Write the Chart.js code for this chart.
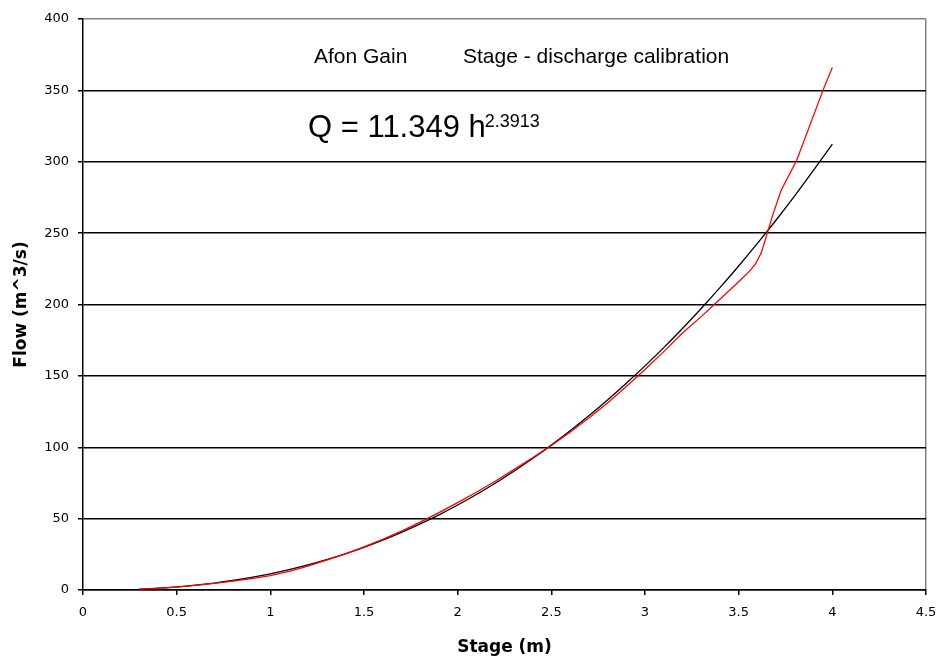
<!DOCTYPE html>
<html>
<head>
<meta charset="utf-8">
<script src="https://cdn.jsdelivr.net/npm/chart.js@4"></script>
<style>
html,body{margin:0;padding:0;background:#fff;}
#wrap{width:938px;height:661px;}
</style>
</head>
<body>
<div id="wrap"><canvas id="c" width="938" height="661"></canvas></div>
<script>
// Fitted rating curve Q = 11.349 h^2.3913 (black)
const fitStage = [0.3,0.4,0.5,0.6,0.7,0.8,0.9,1.0,1.1,1.2,1.3,1.4,1.5,1.6,1.7,1.8,1.9,2.0,2.1,2.2,2.3,2.4,2.5,2.6,2.7,2.8,2.9,3.0,3.1,3.2,3.3,3.4,3.5,3.6,3.7,3.8,3.9,4.0];
const fitFlow  = [0.64,1.27,2.16,3.35,4.84,6.66,8.82,11.35,14.25,17.55,21.25,25.37,29.93,34.92,40.37,46.28,52.67,59.54,66.91,74.79,83.18,92.08,101.5,111.5,122.0,133.1,144.8,157.0,169.8,183.2,197.2,211.8,227.0,242.8,259.2,276.3,294.1,312.4];

// Observed stage-discharge (red)
const obsStage = [0.3,0.4,0.5,0.6,0.7,0.8,0.9,1.0,1.1,1.2,1.3,1.4,1.5,1.6,1.7,1.8,1.9,2.0,2.1,2.2,2.3,2.4,2.5,2.6,2.7,2.8,2.9,3.0,3.1,3.2,3.3,3.37,3.45,3.5,3.557,3.59,3.62,3.65,3.682,3.727,3.81,3.95,4.0];
const obsFlow  = [0.6,1.2,2.0,3.3,4.6,6.2,8.0,10.0,13.0,16.8,21.0,25.3,30.2,35.5,41.2,47.5,54.2,61.2,68.5,76.2,84.3,92.6,101.2,110.5,120.5,131.0,142.5,154.5,167.0,180.0,191.5,200.0,209.8,216.0,223.2,228.5,236.0,248.8,262.8,280.0,301.0,350.0,366.0];

const xTicks = [0,0.5,1,1.5,2,2.5,3,3.5,4,4.5];
const yTicks = [0,50,100,150,200,250,300,350,400];

const chartTitleA = "Afon Gain";
const chartTitleB = "Stage - discharge calibration";
const eqMain = "Q = 11.349 h";
const eqExp = "2.3913";
const xTitle = "Stage (m)";
const yTitle = "Flow (m^3/s)";

const toPts = (xs, ys) => xs.map((x, i) => ({x: x, y: ys[i]}));

const textPlugin = {
  id: 'texts',
  afterDraw(chart) {
    const ctx = chart.ctx;
    const ca = chart.chartArea;
    ctx.save();
    ctx.fillStyle = '#000';
    ctx.textBaseline = 'alphabetic';
    ctx.textAlign = 'left';
    ctx.font = '21px "Liberation Sans", Arial, sans-serif';
    ctx.fillText(chartTitleA, 314, 63);
    ctx.fillText(chartTitleB, 463, 63);
    ctx.font = '31px "Liberation Sans", Arial, sans-serif';
    ctx.fillText(eqMain, 308, 137);
    const w = ctx.measureText(eqMain).width;
    ctx.font = '18px "Liberation Sans", Arial, sans-serif';
    ctx.fillText(eqExp, 308 + w - 1, 127);
    // axis titles
    ctx.font = 'bold 17px "DejaVu Sans", sans-serif';
    ctx.textAlign = 'center';
    ctx.textBaseline = 'middle';
    ctx.fillText(xTitle, (ca.left + ca.right) / 2, 648);
    ctx.translate(22, (ca.top + ca.bottom) / 2);
    ctx.rotate(-Math.PI / 2);
    ctx.fillText(yTitle, 0, 0);
    ctx.restore();
  }
};

new Chart(document.getElementById('c'), {
  type: 'line',
  data: {
    datasets: [
      {
        label: 'Observed',
        data: toPts(obsStage, obsFlow),
        borderColor: '#ff0000',
        borderWidth: 1.3,
        pointRadius: 0,
        tension: 0,
        fill: false
      },
      {
        label: 'Fit',
        data: toPts(fitStage, fitFlow),
        borderColor: '#000000',
        borderWidth: 1.3,
        pointRadius: 0,
        cubicInterpolationMode: 'monotone',
        fill: false
      }
    ]
  },
  options: {
    responsive: false,
    animation: false,
    events: [],
    layout: { autoPadding: false, padding: { top: 19, right: 12, left: 0, bottom: 0 } },
    plugins: { legend: { display: false }, tooltip: { enabled: false }, title: { display: false } },
    scales: {
      x: {
        type: 'linear',
        min: xTicks[0],
        max: xTicks[xTicks.length - 1],
        afterBuildTicks: (s) => { s.ticks = xTicks.map(v => ({value: v})); },
        afterFit: (s) => { s.height = 71; s.paddingLeft = 0; s.paddingRight = 0; },
        grid: {
          color: (c) => (c.tick && c.tick.value === 4.5) ? '#808080' : 'rgba(0,0,0,0)',
          lineWidth: 1.5,
          tickColor: '#000',
          tickLength: 5,
          drawTicks: true
        },
        border: { color: '#000', width: 1.5 },
        ticks: {
          color: '#000',
          padding: 10,
          maxRotation: 0,
          font: { family: '"DejaVu Sans", sans-serif', size: 13 },
          callback: (v) => String(v)
        }
      },
      y: {
        type: 'linear',
        min: yTicks[0],
        max: yTicks[yTicks.length - 1],
        afterBuildTicks: (s) => { s.ticks = yTicks.map(v => ({value: v})); },
        afterFit: (s) => { s.width = 83; s.paddingTop = 0; s.paddingBottom = 0; },
        grid: {
          color: (c) => (c.tick && c.tick.value === 400) ? '#808080' : '#000',
          lineWidth: 1.5,
          tickColor: '#000',
          tickLength: 5,
          drawTicks: true
        },
        border: { color: '#000', width: 1.5 },
        ticks: {
          color: '#000',
          padding: 9,
          font: { family: '"DejaVu Sans", sans-serif', size: 13 },
          callback: (v) => String(v)
        }
      }
    }
  },
  plugins: [textPlugin]
});
</script>
</body>
</html>
